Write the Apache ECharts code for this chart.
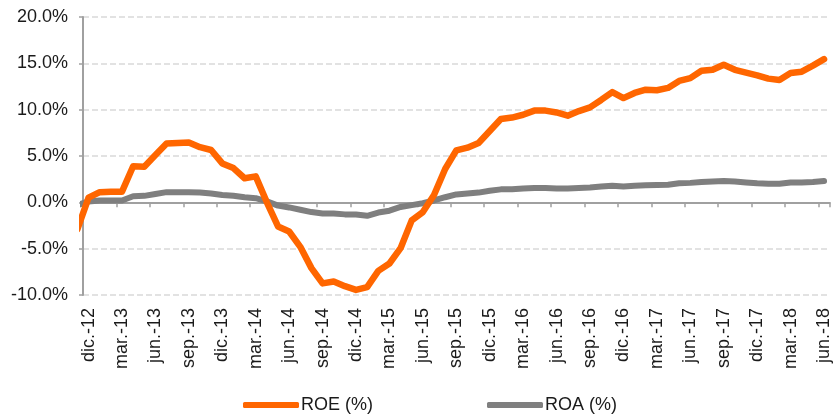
<!DOCTYPE html>
<html>
<head>
<meta charset="utf-8">
<script src="https://cdn.jsdelivr.net/npm/echarts@6/dist/echarts.min.js"></script>
<style>
  html, body { margin: 0; padding: 0; background: #fff; }
  #chart { width: 833px; height: 414px; }
</style>
</head>
<body>
<div id="chart"></div>
<script>
// meses: nov.-12 .. jun.-18 (nov.-12 sólo entra recortado por la izquierda)
const mesesAbrev = ['ene.', 'feb.', 'mar.', 'abr.', 'may.', 'jun.', 'jul.', 'ago.', 'sep.', 'oct.', 'nov.', 'dic.']
const meses = []
for (let k = 0; k < 68; k++) {
  const m = (10 + k) % 12
  const y = 12 + Math.floor((10 + k) / 12)
  meses.push(mesesAbrev[m] + '-' + y)
}

// ROE (%)
const roe = [
  -2.9,
  0.5, 1.1, 1.15, 1.15, 3.9, 3.85, 5.1, 6.35, 6.4, 6.45,
  5.95, 5.65, 4.2, 3.7, 2.6, 2.8, 0.0, -2.6, -3.15, -4.8,
  -7.1, -8.75, -8.55, -9.05, -9.45, -9.15, -7.4, -6.6, -4.95, -1.95,
  -1.05, 0.8, 3.6, 5.6, 5.9, 6.4, 7.7, 9.0, 9.15, 9.45,
  9.9, 9.9, 9.7, 9.35, 9.85, 10.25, 11.05, 11.9, 11.25, 11.8,
  12.15, 12.1, 12.35, 13.1, 13.4, 14.2, 14.3, 14.85, 14.3, 14.0,
  13.7, 13.35, 13.2, 13.95, 14.1, 14.75, 15.45
]

// ROA (%)
const roa = [
  -0.3,
  0.1, 0.2, 0.2, 0.2, 0.65, 0.7, 0.9, 1.1, 1.1, 1.1,
  1.05, 0.95, 0.8, 0.7, 0.55, 0.45, 0.1, -0.35, -0.55, -0.8,
  -1.05, -1.2, -1.2, -1.3, -1.32, -1.45, -1.1, -0.9, -0.5, -0.3,
  -0.1, 0.2, 0.55, 0.85, 0.95, 1.05, 1.25, 1.4, 1.42, 1.5,
  1.55, 1.55, 1.5, 1.5, 1.55, 1.6, 1.7, 1.8, 1.72, 1.8,
  1.85, 1.88, 1.9, 2.05, 2.1, 2.2, 2.25, 2.3, 2.25, 2.15,
  2.05, 2.0, 2.0, 2.15, 2.15, 2.2, 2.3
]

const yTicks = [-10, -5, 0, 5, 10, 15, 20]

const fuente = '"Liberation Sans", Arial, sans-serif'
const cadaTres = (idx) => (idx - 1) % 3 === 0

const chart = echarts.init(document.getElementById('chart'))
chart.setOption({
  animation: false,
  grid: { left: 83, right: 0, top: 17, bottom: 119, containLabel: false },
  legend: {
    data: ['ROE (%)', 'ROA (%)'],
    left: 238,
    top: 391,
    itemWidth: 56,
    itemHeight: 6,
    itemGap: 114,
    icon: 'roundRect',
    textStyle: { fontFamily: fuente, fontSize: 18, color: '#1a1a1a', padding: [0, 0, 0, -3] }
  },
  xAxis: [
    {
      type: 'category',
      data: meses,
      min: 1,
      boundaryGap: true,
      axisLine: { onZero: true, lineStyle: { color: '#a0a0a0', width: 2 } },
      axisTick: { show: true, interval: cadaTres, length: 5, lineStyle: { color: '#a0a0a0', width: 1.5 } },
      axisLabel: { show: false },
      splitLine: { show: false }
    },
    {
      type: 'category',
      data: meses,
      min: 1,
      position: 'bottom',
      boundaryGap: true,
      axisLine: { show: false, onZero: false },
      axisTick: { show: false },
      axisLabel: {
        interval: cadaTres,
        rotate: 90,
        margin: 13,
        fontFamily: fuente,
        fontSize: 18,
        color: '#1a1a1a'
      },
      splitLine: { show: false }
    }
  ],
  yAxis: {
    type: 'value',
    min: yTicks[0],
    max: yTicks[yTicks.length - 1],
    interval: 5,
    axisLine: { show: true, lineStyle: { color: '#a0a0a0', width: 2 } },
    axisTick: { show: true, length: 4, lineStyle: { color: '#a0a0a0', width: 1.5 } },
    axisLabel: {
      margin: 15,
      fontFamily: fuente,
      fontSize: 18,
      color: '#1a1a1a',
      formatter: (v) => v.toFixed(1) + '%'
    },
    splitLine: { show: true, lineStyle: { color: '#d9d9d9', width: 1.5, type: [6, 3] } }
  },
  series: [
    {
      name: 'ROA (%)',
      type: 'line',
      xAxisIndex: 0,
      data: roa,
      symbol: 'none',
      z: 3,
      itemStyle: { color: '#7f7f7f' },
      lineStyle: { color: '#7f7f7f', width: 6, cap: 'round', join: 'round' }
    },
    {
      name: 'ROE (%)',
      type: 'line',
      xAxisIndex: 0,
      data: roe,
      symbol: 'none',
      z: 4,
      itemStyle: { color: '#ff6600' },
      lineStyle: { color: '#ff6600', width: 6.5, cap: 'round', join: 'round' }
    }
  ]
})
</script>
</body>
</html>
